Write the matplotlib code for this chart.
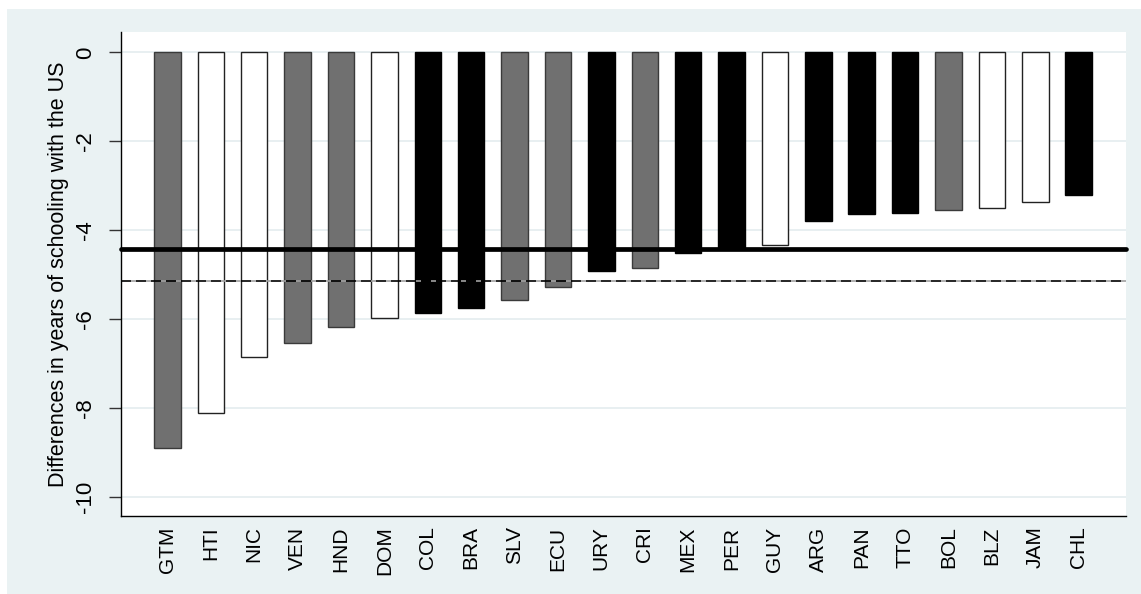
import matplotlib.pyplot as plt
from matplotlib.patches import Rectangle
import numpy as np

# data
countries = ['GTM', 'HTI', 'NIC', 'VEN', 'HND', 'DOM', 'COL', 'BRA', 'SLV', 'ECU', 'URY',
             'CRI', 'MEX', 'PER', 'GUY', 'ARG', 'PAN', 'TTO', 'BOL', 'BLZ', 'JAM', 'CHL']
gap = [-8.90, -8.10, -6.85, -6.54, -6.18, -5.96, -5.85, -5.74, -5.57, -5.28, -4.91,
       -4.85, -4.50, -4.43, -4.34, -3.78, -3.63, -3.60, -3.55, -3.50, -3.36, -3.20]
group = ['grey', 'white', 'white', 'grey', 'grey', 'white', 'black', 'black', 'grey', 'grey', 'black',
         'grey', 'black', 'black', 'white', 'black', 'black', 'black', 'grey', 'white', 'white', 'black']
mean_line = -4.41
dash_line = -5.13
yticks = [0, -2, -4, -6, -8, -10]

fill = {'grey': '#707070', 'white': 'white', 'black': 'black'}
edge = {'grey': '#3a3a3a', 'white': '#222222', 'black': 'black'}

plt.rcParams['font.family'] = ['Liberation Sans', 'DejaVu Sans']

W, H = 1141, 594
fig = plt.figure(figsize=(W / 100, H / 100), dpi=100)
fig.patch.set_facecolor('white')
fig.patches.append(Rectangle((7 / W, 0), 1, 585 / H, transform=fig.transFigure,
                             facecolor='#EAF2F3', edgecolor='none', zorder=-10))

ax = fig.add_axes([121 / W, 1 - 516 / H, (1126 - 121) / W, (516 - 32.3) / H])
ax.set_facecolor('white')

x = np.arange(len(countries))
ax.bar(x, gap, width=0.61, color=[fill[g] for g in group],
       edgecolor=[edge[g] for g in group], linewidth=1, zorder=2)

ax.axhline(mean_line, color='black', lw=3.4, zorder=3, solid_capstyle='round', clip_on=False)
ax.axhline(dash_line, color='black', lw=1.2, ls=(0, (6, 3)), gapcolor='#a0a0a0', zorder=3)

ax.set_xlim(-1.07, 22.09)
ax.set_ylim(-10.42, 0.45)
ax.set_xticks(x)
ax.set_xticklabels(countries)
ax.set_yticks(yticks)
ax.set_yticklabels([str(v) for v in yticks])

ax.grid(axis='y', color='#E6EEF0', lw=1.3)
ax.set_axisbelow(True)

for s in ['top', 'right']:
    ax.spines[s].set_visible(False)
for s in ['left', 'bottom']:
    ax.spines[s].set_color('black')
    ax.spines[s].set_linewidth(1)

ax.tick_params(axis='y', length=9, width=1, color='#333333', pad=9,
               labelsize=16, labelrotation=90)
ax.tick_params(axis='x', length=0, pad=7.5, labelsize=15, labelrotation=90)
for lab in ax.get_yticklabels():
    lab.set_va('center')

ax.set_ylabel('Differences in years of schooling with the US', fontsize=15.5, labelpad=4)

fig.savefig('out.png', dpi=100, facecolor=fig.get_facecolor())
